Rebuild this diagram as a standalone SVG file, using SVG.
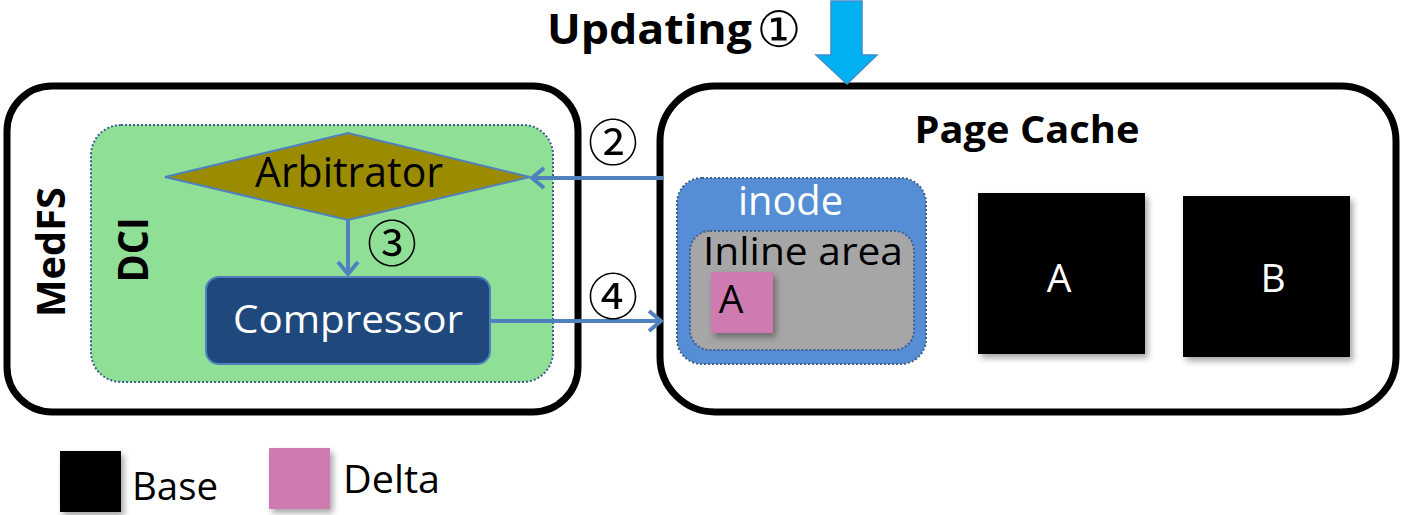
<svg xmlns="http://www.w3.org/2000/svg" width="1402" height="515" viewBox="0 0 1402 515">
<style>
.t{font-family:"Open Sans","Liberation Sans",sans-serif}
.b{font-family:"Open Sans","Liberation Sans",sans-serif;font-weight:bold}
.c{font-family:"Noto Sans CJK JP",serif;font-size:50px;fill:#000}
.conn{stroke:#4f81bd;stroke-width:4;fill:none}
.dot{stroke:#3f5f8f;stroke-width:2;stroke-dasharray:2 2}
</style>
<defs>
<marker id="ah" viewBox="0 0 20 24" refX="17" refY="12" markerWidth="20" markerHeight="24" orient="auto" markerUnits="userSpaceOnUse">
<path d="M5,2 L17,12 L5,22" fill="none" stroke="#4f81bd" stroke-width="4"/>
</marker>
<filter id="sh" x="-10%" y="-10%" width="130%" height="130%">
<feDropShadow dx="3" dy="4" stdDeviation="3" flood-color="#000" flood-opacity="0.35"/>
</filter>
</defs>
<rect width="1402" height="515" fill="#fff"/>

<g id="medfs">
<rect x="7" y="86" width="571" height="326" rx="45" fill="#fff" stroke="#000" stroke-width="7"/>
<text class="b" font-size="39" text-anchor="middle" transform="translate(65,252) rotate(-90)" textLength="130" lengthAdjust="spacingAndGlyphs">MedFS</text>
</g>
<g id="dci">
<rect x="91" y="125" width="462" height="257" rx="30" fill="#8fe096" class="dot"/>
<text class="b" font-size="41" text-anchor="middle" transform="translate(148,250) rotate(-90)" textLength="65" lengthAdjust="spacingAndGlyphs">DCI</text>
</g>
<g id="arbitrator">
<polygon points="165,177 348,133 530,177 348,220" fill="#9b8b00" stroke="#4f81bd" stroke-width="2"/>
<text class="t" font-size="42" x="349" y="187" text-anchor="middle" textLength="188" lengthAdjust="spacingAndGlyphs">Arbitrator</text>
</g>
<g id="compressor">
<rect x="206" y="277" width="284" height="87" rx="13" fill="#1f497d" stroke="#4f81bd" stroke-width="2"/>
<text class="t" font-size="38" x="348" y="333" fill="#fff" text-anchor="middle" textLength="230" lengthAdjust="spacingAndGlyphs">Compressor</text>
</g>

<g id="pagecache">
<rect x="660" y="86" width="736" height="326" rx="55" fill="#fff" stroke="#000" stroke-width="7"/>
<text class="b" font-size="37" x="1027" y="143" text-anchor="middle" textLength="225" lengthAdjust="spacingAndGlyphs">Page Cache</text>
</g>
<g id="inode">
<rect x="677" y="178" width="249" height="186" rx="25" fill="#558ed5" class="dot"/>
<text class="t" font-size="41" x="738" y="215" fill="#fff" textLength="105" lengthAdjust="spacingAndGlyphs">inode</text>
</g>
<g id="inline">
<rect x="690" y="231" width="224" height="119" rx="20" fill="#a6a6a6" class="dot"/>
<text class="t" font-size="39" x="703" y="265" textLength="200" lengthAdjust="spacingAndGlyphs">Inline area</text>
</g>
<g id="deltaA">
<rect x="711" y="272" width="62" height="61" fill="#d07ab2" filter="url(#sh)"/>
<text class="t" font-size="39" x="731" y="313" text-anchor="middle">A</text>
</g>
<g id="baseA">
<rect x="978" y="193" width="167" height="161" fill="#000" filter="url(#sh)"/>
<text class="t" font-size="39" x="1059" y="292" fill="#fff" text-anchor="middle">A</text>
</g>
<g id="baseB">
<rect x="1183" y="196" width="167" height="161" fill="#000" filter="url(#sh)"/>
<text class="t" font-size="39" x="1273" y="292" fill="#fff" text-anchor="middle">B</text>
</g>

<g id="updating">
<text class="b" font-size="42" x="547" y="44" textLength="205" lengthAdjust="spacingAndGlyphs">Updating</text>
<text x="779" y="47" text-anchor="middle" font-family="DejaVu Sans, sans-serif" font-size="50">①</text>
<polygon points="831,1 862,1 862,55 877,55 847,84 816,55 831,55" fill="#00b0f0" stroke="#3a8fd0" stroke-width="1.5"/>
</g>

<g id="connectors">
<line class="conn" x1="663" y1="178" x2="532" y2="178" marker-end="url(#ah)"/>
<line class="conn" x1="348" y1="220" x2="348" y2="274" marker-end="url(#ah)"/>
<line class="conn" x1="490" y1="321" x2="661" y2="321" marker-end="url(#ah)"/>
<text class="c" x="613" y="161" text-anchor="middle">②</text>
<text class="c" x="392" y="262" text-anchor="middle">③</text>
<text class="c" x="613" y="315" text-anchor="middle">④</text>
</g>

<g id="legend">
<rect x="60" y="451" width="61" height="61" fill="#000" filter="url(#sh)"/>
<text class="t" font-size="39" x="132" y="500" textLength="86" lengthAdjust="spacingAndGlyphs">Base</text>
<rect x="269" y="448" width="61" height="61" fill="#d07ab2" filter="url(#sh)"/>
<text class="t" font-size="39" x="343" y="493" textLength="97" lengthAdjust="spacingAndGlyphs">Delta</text>
</g>
</svg>
